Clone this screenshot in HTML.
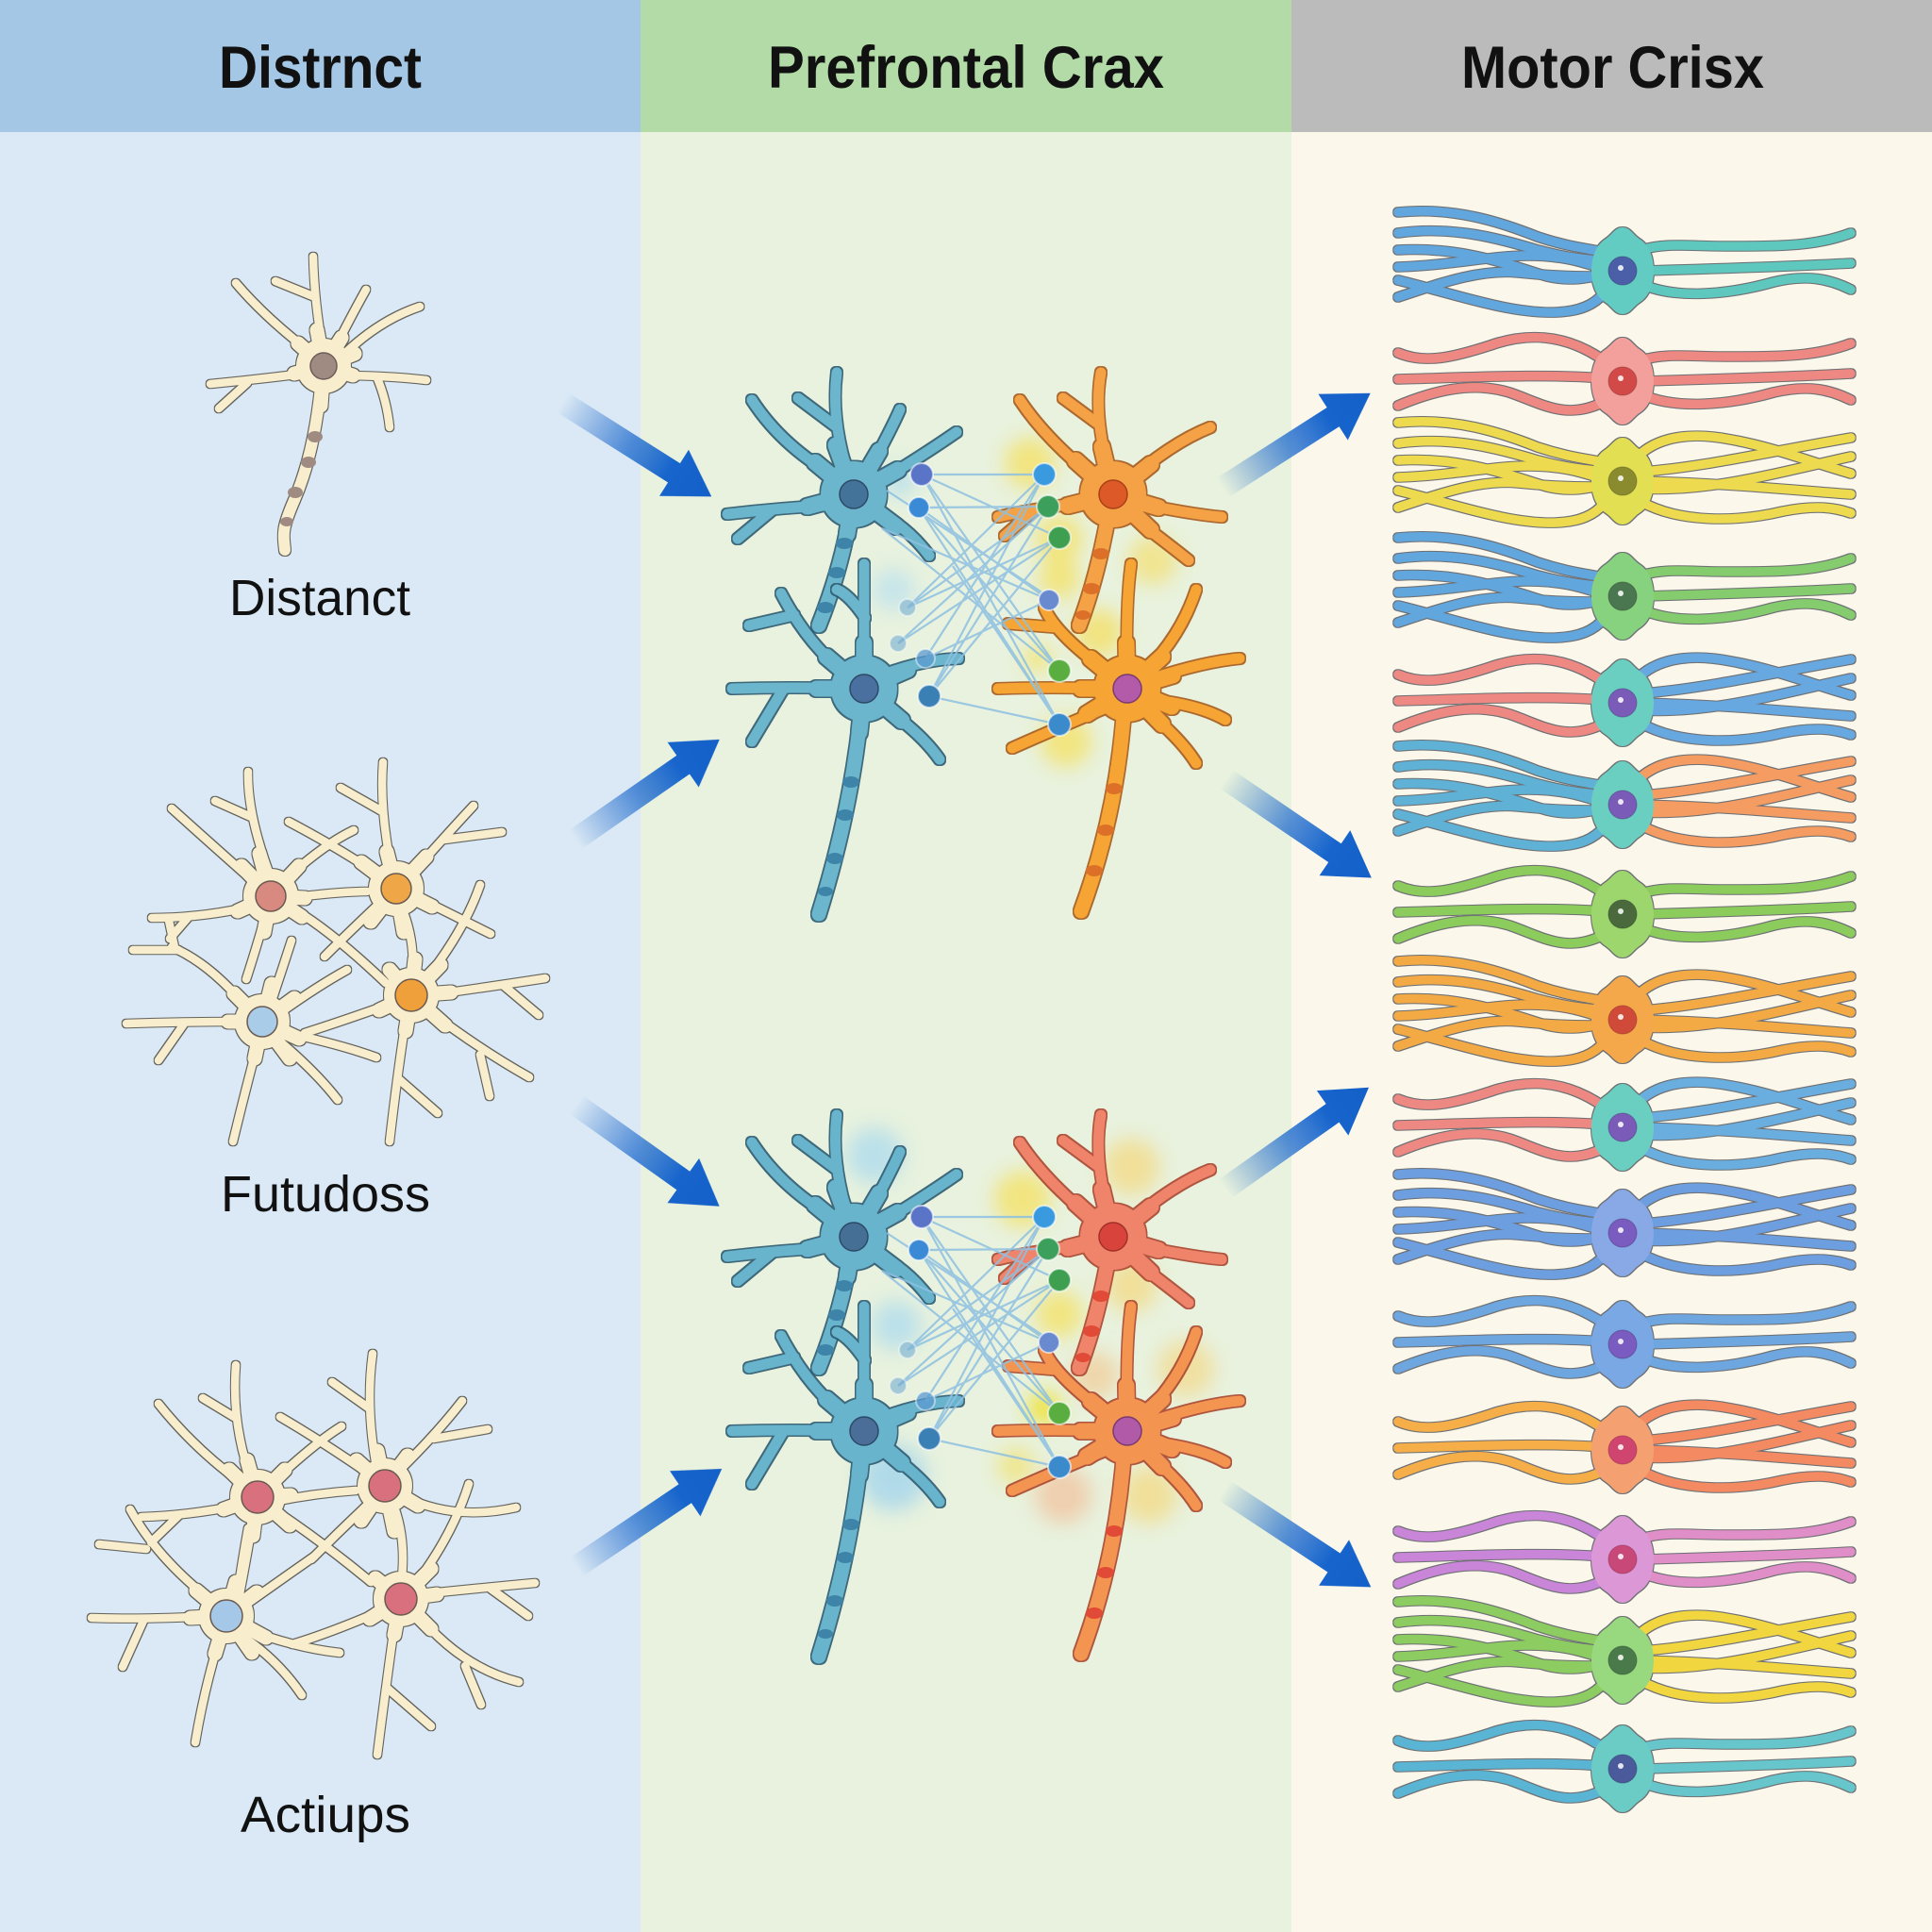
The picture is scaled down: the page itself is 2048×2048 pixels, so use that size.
<!DOCTYPE html>
<html><head><meta charset="utf-8"><title>Cortex diagram</title>
<style>html,body{margin:0;padding:0;background:#fff}svg{display:block}</style></head>
<body>
<svg xmlns="http://www.w3.org/2000/svg" xmlns:xlink="http://www.w3.org/1999/xlink" width="2048" height="2048" viewBox="0 0 2048 2048">
<defs>
<filter id="olC" x="-10%" y="-10%" width="120%" height="120%" color-interpolation-filters="sRGB">
<feMorphology in="SourceAlpha" operator="dilate" radius="1.2" result="d"/><feFlood flood-color="#57544e" flood-opacity=".9"/><feComposite in2="d" operator="in"/><feMerge><feMergeNode/><feMergeNode in="SourceGraphic"/></feMerge></filter>
<filter id="olB" x="-10%" y="-10%" width="120%" height="120%" color-interpolation-filters="sRGB">
<feMorphology in="SourceAlpha" operator="dilate" radius="1.4" result="d"/><feFlood flood-color="#2c5a70" flood-opacity=".9"/><feComposite in2="d" operator="in"/><feMerge><feMergeNode/><feMergeNode in="SourceGraphic"/></feMerge></filter>
<filter id="olO" x="-10%" y="-10%" width="120%" height="120%" color-interpolation-filters="sRGB">
<feMorphology in="SourceAlpha" operator="dilate" radius="1.4" result="d"/><feFlood flood-color="#a65a1c" flood-opacity=".9"/><feComposite in2="d" operator="in"/><feMerge><feMergeNode/><feMergeNode in="SourceGraphic"/></feMerge></filter>
<filter id="olR" x="-10%" y="-10%" width="120%" height="120%" color-interpolation-filters="sRGB">
<feMorphology in="SourceAlpha" operator="dilate" radius="1.4" result="d"/><feFlood flood-color="#a8452f" flood-opacity=".9"/><feComposite in2="d" operator="in"/><feMerge><feMergeNode/><feMergeNode in="SourceGraphic"/></feMerge></filter>
<filter id="olM" x="-6%" y="-25%" width="112%" height="150%" color-interpolation-filters="sRGB">
<feMorphology in="SourceAlpha" operator="dilate" radius="1.2" result="d"/><feFlood flood-color="#3e434a" flood-opacity=".75"/><feComposite in2="d" operator="in"/><feMerge><feMergeNode/><feMergeNode in="SourceGraphic"/></feMerge></filter>
<filter id="bl" x="-60%" y="-60%" width="220%" height="220%"><feGaussianBlur stdDeviation="10"/></filter>

<linearGradient id="ag" gradientUnits="userSpaceOnUse" x1="0" y1="0" x2="186" y2="0">
<stop offset="0" stop-color="#1a66cc" stop-opacity="0"/>
<stop offset=".45" stop-color="#2a72cf" stop-opacity=".8"/>
<stop offset=".72" stop-color="#1664cc"/>
<stop offset="1" stop-color="#1460c8"/>
</linearGradient>
<path id="arw" d="M0,-12 L139,-12 L139,-29 L186,0 L139,29 L139,12 L0,12Z"/>

<!-- Motor templates -->
<g id="LA" fill="none" stroke="currentColor" stroke-width="9.5" stroke-linecap="round">
<path d="M-238,-30 C-210,-18 -180,-25 -140,-38 C-100,-52 -60,-50 -20,-22"/>
<path d="M-238,-2 C-160,-4 -80,-8 -20,-3"/>
<path d="M-238,26 C-200,10 -160,0 -120,12 C-85,24 -60,42 -20,22"/>
</g>
<g id="LB" fill="none" stroke="currentColor" stroke-width="9.5" stroke-linecap="round">
<path d="M-238,-62 C-180,-68 -130,-52 -90,-36 C-60,-26 -40,-24 -20,-20"/>
<path d="M-238,-40 C-180,-48 -130,-34 -90,-22 C-60,-14 -40,-12 -20,-10"/>
<path d="M-238,-22 C-170,-26 -120,-6 -80,6 C-55,12 -40,8 -20,4"/>
<path d="M-238,-4 C-180,-6 -140,-16 -100,-16 C-60,-16 -40,-8 -20,-2"/>
<path d="M-238,28 C-190,12 -150,-2 -110,2 C-70,6 -45,6 -20,6"/>
<path d="M-238,10 C-180,24 -120,46 -70,44 C-45,43 -30,36 -20,24"/>
</g>
<g id="RA" fill="none" stroke="currentColor" stroke-width="9.5" stroke-linecap="round">
<path d="M20,-22 C45,-30 70,-26 110,-26 C170,-26 205,-26 242,-40"/>
<path d="M20,0 C90,-2 170,-4 242,-8"/>
<path d="M20,14 C55,30 110,26 160,12 C195,4 218,8 242,20"/>
</g>
<g id="RB" fill="none" stroke="currentColor" stroke-width="9.5" stroke-linecap="round">
<path d="M18,-28 C40,-48 75,-52 115,-44 C160,-36 200,-20 242,-8"/>
<path d="M20,-10 C80,-14 150,-30 242,-46"/>
<path d="M20,0 C100,2 165,8 242,14"/>
<path d="M20,8 C90,12 160,-8 242,-26"/>
<path d="M20,22 C60,44 120,44 170,32 C205,25 225,28 242,34"/>
</g>
<path id="SM" fill="currentColor" d="M0,-46 C8,-46 11,-38 19,-33 C29,-26 33,-13 33,0 C33,13 29,26 19,33 C11,38 8,46 0,46 C-8,46 -11,38 -19,33 C-29,26 -33,13 -33,0 C-33,-13 -29,-26 -19,-33 C-11,-38 -8,-46 0,-46Z"/>
<g id="hl"><circle cx="-2" cy="-3" r="3" fill="#fff" opacity=".85"/></g>

<!-- Middle neuron geometries -->
<g id="BU" fill="none" stroke="currentColor" stroke-linecap="round" stroke-linejoin="round">
<g stroke-width="11">
<path d="M905,520 Q880,452 887,395"/><path d="M886,452 L846,422"/>
<path d="M898,512 Q832,478 797,424"/><path d="M915,510 Q945,455 954,434"/>
<path d="M925,515 Q975,485 1014,458"/><path d="M890,535 Q830,538 771,545"/>
<path d="M818,541 L782,571"/><path d="M925,540 Q960,556 985,589"/>
</g>
<g stroke-width="17">
<path d="M905,524 L886,472 M905,524 L864,490 M905,524 L932,478 M905,524 L952,498 M905,524 L856,537 M905,524 L950,558 M905,524 L898,566"/>
</g>
<g stroke-width="15"><path d="M902,540 Q893,600 868,663"/></g>
<circle cx="905" cy="524" r="35" fill="currentColor" stroke="none"/>
</g>
<g id="BL" fill="none" stroke="currentColor" stroke-linecap="round" stroke-linejoin="round">
<g stroke-width="11">
<path d="M916,720 Q916,650 916,598"/><path d="M917,655 Q900,630 887,625"/>
<path d="M905,720 Q860,690 828,629"/><path d="M842,652 L794,663"/>
<path d="M905,730 Q840,728 776,730"/><path d="M830,731 L797,786"/>
<path d="M925,720 Q970,700 1016,698"/><path d="M930,745 Q975,775 996,805"/>
</g>
<g stroke-width="17">
<path d="M916,730 L916,682 M916,730 L876,696 M916,730 L866,730 M916,730 L962,710 M916,730 L956,764 M916,730 L911,776"/>
</g>
<g stroke-width="15"><path d="M914,740 Q905,850 868,969"/></g>
<circle cx="916" cy="730" r="35" fill="currentColor" stroke="none"/>
</g>
<g id="OU" fill="none" stroke="currentColor" stroke-linecap="round" stroke-linejoin="round">
<g stroke-width="11">
<path d="M1180,515 Q1158,445 1167,395"/><path d="M1165,450 L1127,422"/>
<path d="M1170,515 Q1110,468 1081,424"/><path d="M1190,515 Q1240,470 1283,453"/>
<path d="M1170,530 Q1100,538 1058,548"/><path d="M1096,541 L1065,568"/>
<path d="M1190,530 Q1260,545 1295,548"/><path d="M1190,540 Q1240,578 1260,594"/>
</g>
<g stroke-width="17">
<path d="M1180,524 L1168,474 M1180,524 L1140,488 M1180,524 L1220,492 M1180,524 L1132,536 M1180,524 L1228,538 M1180,524 L1220,562"/>
</g>
<g stroke-width="15"><path d="M1176,540 Q1164,610 1144,663"/></g>
<circle cx="1180" cy="524" r="35" fill="currentColor" stroke="none"/>
</g>
<g id="OL" fill="none" stroke="currentColor" stroke-linecap="round" stroke-linejoin="round">
<g stroke-width="11">
<path d="M1195,720 Q1193,640 1199,598"/><path d="M1185,720 Q1120,675 1107,644"/>
<path d="M1119,665 L1069,661"/><path d="M1205,720 Q1250,680 1268,625"/>
<path d="M1205,725 Q1270,702 1314,698"/><path d="M1205,740 Q1268,745 1299,763"/>
<path d="M1205,745 Q1250,780 1268,809"/><path d="M1185,730 Q1110,728 1058,730"/>
<path d="M1185,745 Q1120,772 1073,793"/>
</g>
<g stroke-width="17">
<path d="M1195,730 L1194,682 M1195,730 L1156,698 M1195,730 L1232,696 M1195,730 L1243,716 M1195,730 L1242,749 M1195,730 L1232,768 M1195,730 L1146,730 M1195,730 L1152,757"/>
</g>
<g stroke-width="15"><path d="M1192,745 Q1185,860 1146,966"/></g>
<circle cx="1195" cy="730" r="35" fill="currentColor" stroke="none"/>
</g>

<!-- network dots and lines -->
<g id="net">
<g stroke="#8dbfe0" stroke-width="2.2" opacity=".85" fill="none">
<path d="M977,503 L1107,503 M977,503 L1123,570 M977,503 L1123,711 M977,503 L1123,768 M974,538 L1111,537 M974,538 L1112,636 M974,538 L1123,768 M974,538 L1123,711 M962,644 L1107,503 M962,644 L1111,537 M962,644 L1123,570 M952,682 L1111,537 M952,682 L1123,570 M981,698 L1107,503 M981,698 L1112,636 M985,738 L1123,768 M985,738 L1111,537 M985,738 L1123,570 M985,738 L1107,503 M935,560 L1112,636 M935,560 L1123,711 M1010,600 L1123,768 M940,520 L1123,640"/>
</g>
<g stroke="#ffffff" stroke-opacity=".6" stroke-width="2">
<circle cx="977" cy="503" r="12" fill="#5a74c8"/>
<circle cx="974" cy="538" r="11" fill="#3a8ad6"/>
<circle cx="962" cy="644" r="9" fill="#7ab0d0" opacity=".6"/>
<circle cx="952" cy="682" r="9" fill="#6aa6d0" opacity=".55"/>
<circle cx="981" cy="698" r="10" fill="#5a9ad0" opacity=".75"/>
<circle cx="985" cy="738" r="12" fill="#3a80b4"/>
<circle cx="1107" cy="503" r="12" fill="#3a9ae0"/>
<circle cx="1111" cy="537" r="12" fill="#3d9f5c"/>
<circle cx="1123" cy="570" r="12" fill="#3f9f50"/>
<circle cx="1112" cy="636" r="11" fill="#6a8ad0"/>
<circle cx="1123" cy="711" r="12" fill="#5aae40"/>
<circle cx="1123" cy="768" r="12" fill="#3a8acc"/>
</g>
</g>

<!-- cream neuron geometries -->
<g id="N1" fill="none" stroke="currentColor" stroke-linecap="round" stroke-linejoin="round">
<g stroke-width="8.5">
<path d="M343,375 Q333,320 332,272"/><path d="M334,315 L292,298"/>
<path d="M335,378 Q282,338 250,300"/><path d="M352,375 Q375,330 388,307"/>
<path d="M360,380 Q400,340 445,325"/><path d="M330,395 Q275,402 223,407"/>
<path d="M262,406 L232,433"/><path d="M355,398 Q410,398 452,403"/>
<path d="M400,401 Q410,425 413,453"/>
</g>
<g stroke-width="15"><path d="M343,388 L336,350 M343,388 L316,364 M343,388 L362,358 M343,388 L376,375 M343,388 L312,396 M343,388 L374,398 M343,388 L340,430"/></g>
<g stroke-width="12"><path d="M340,410 C335,460 325,500 312,530 S300,565 302,583"/></g>
<circle cx="343" cy="388" r="29" fill="currentColor" stroke="none"/>
</g>

<g id="N2" fill="none" stroke="currentColor" stroke-linecap="round" stroke-linejoin="round">
<g stroke-width="8.5">
<path d="M289,935 Q262,866 263,818"/><path d="M266,866 L228,849"/>
<path d="M275,940 Q223,894 182,857"/><path d="M300,935 Q340,897 375,880"/>
<path d="M305,952 Q361,945 389,945"/><path d="M270,960 Q216,973 161,973"/>
<path d="M199,973 L180,995"/><path d="M283,965 Q272,1004 261,1038"/>
<path d="M305,960 Q347,983 409,1042"/>
<path d="M416,925 Q402,859 406,808"/><path d="M405,860 L361,835"/>
<path d="M405,930 Q361,900 306,871"/><path d="M435,928 Q475,883 502,854"/>
<path d="M471,890 L532,882"/><path d="M440,950 Q492,976 520,990"/>
<path d="M405,955 Q368,990 344,1014"/><path d="M425,960 Q442,1000 436,1040"/>
<path d="M265,1072 Q223,1021 182,1004"/><path d="M185,1004 L179,976"/>
<path d="M189,1007 L141,1007"/><path d="M285,1070 Q299,1028 309,997"/>
<path d="M295,1075 Q337,1045 368,1028"/><path d="M262,1083 Q196,1083 134,1085"/>
<path d="M196,1084 L168,1124"/><path d="M295,1093 Q361,1107 399,1121"/>
<path d="M275,1100 Q261,1152 247,1210"/><path d="M292,1100 Q334,1135 358,1166"/>
<path d="M450,1040 Q492,987 509,938"/><path d="M455,1055 Q526,1045 578,1037"/>
<path d="M533,1044 L571,1076"/><path d="M420,1062 Q361,1083 323,1095"/>
<path d="M432,1070 Q423,1124 413,1210"/><path d="M424,1145 L464,1180"/>
<path d="M450,1068 Q506,1111 561,1142"/><path d="M509,1118 L519,1162"/>
</g>
<g stroke-width="15">
<path d="M287,950 L275,905 M287,950 L256,918 M287,950 L317,918 M287,950 L323,952 M287,950 L252,966 M287,950 L280,988 M287,950 L320,972"/>
<path d="M420,942 L410,903 M420,942 L383,914 M420,942 L452,908 M420,942 L458,961 M420,942 L393,977 M420,942 L428,988"/>
<path d="M278,1083 L248,1053 M278,1083 L288,1043 M278,1083 L312,1058 M278,1083 L242,1083 M278,1083 L317,1101 M278,1083 L270,1122 M278,1083 L307,1122"/>
<path d="M436,1055 L467,1023 M436,1055 L478,1052 M436,1055 L402,1071 M436,1055 L430,1093 M436,1055 L472,1087 M436,1055 L413,1028 M436,1055 L440,1017"/>
</g>
<circle cx="287" cy="950" r="29" fill="currentColor" stroke="none"/>
<circle cx="420" cy="942" r="29" fill="currentColor" stroke="none"/>
<circle cx="278" cy="1083" r="29" fill="currentColor" stroke="none"/>
<circle cx="436" cy="1055" r="29" fill="currentColor" stroke="none"/>
</g>

<g id="N3" fill="none" stroke="currentColor" stroke-linecap="round" stroke-linejoin="round">
<g stroke-width="8.5">
<path d="M267,1570 Q245,1510 250,1447"/><path d="M248,1502 L215,1482"/>
<path d="M260,1575 Q207,1537 168,1488"/><path d="M285,1575 Q333,1530 362,1512"/>
<path d="M290,1592 Q333,1583 377,1580"/><path d="M258,1595 Q197,1607 150,1608"/>
<path d="M190,1606 L160,1635"/><path d="M270,1600 Q263,1643 253,1695"/>
<path d="M290,1600 Q340,1633 393,1677"/>
<path d="M400,1560 Q387,1493 395,1435"/><path d="M390,1492 L352,1465"/>
<path d="M395,1565 Q340,1527 297,1502"/><path d="M420,1562 Q463,1520 490,1485"/>
<path d="M460,1525 L517,1515"/><path d="M425,1585 Q480,1613 547,1598"/>
<path d="M395,1590 Q363,1620 330,1653"/><path d="M415,1590 Q432,1630 425,1680"/>
<path d="M228,1700 Q167,1653 138,1600"/><path d="M155,1642 L105,1637"/>
<path d="M250,1700 Q257,1653 263,1620"/><path d="M255,1705 Q300,1673 333,1650"/>
<path d="M225,1713 Q153,1717 97,1715"/><path d="M153,1716 L130,1767"/>
<path d="M255,1725 Q313,1747 360,1752"/><path d="M235,1730 Q217,1787 207,1847"/>
<path d="M250,1730 Q293,1757 320,1797"/>
<path d="M440,1680 Q480,1627 497,1573"/><path d="M445,1690 Q513,1683 567,1678"/>
<path d="M520,1684 L560,1713"/><path d="M410,1705 Q353,1730 310,1743"/>
<path d="M420,1710 Q410,1780 400,1860"/><path d="M411,1790 L457,1830"/>
<path d="M440,1708 Q487,1767 550,1783"/><path d="M493,1766 L510,1807"/>
</g>
<g stroke-width="15">
<path d="M273,1587 L262,1548 M273,1587 L243,1558 M273,1587 L302,1558 M273,1587 L308,1585 M273,1587 L237,1600 M273,1587 L268,1628 M273,1587 L307,1617"/>
<path d="M408,1575 L400,1538 M408,1575 L378,1548 M408,1575 L432,1543 M408,1575 L443,1596 M408,1575 L383,1612 M408,1575 L418,1623"/>
<path d="M240,1713 L208,1686 M240,1713 L250,1677 M240,1713 L272,1688 M240,1713 L202,1715 M240,1713 L282,1736 M240,1713 L228,1753 M240,1713 L267,1752"/>
<path d="M425,1695 L457,1663 M425,1695 L463,1690 M425,1695 L392,1716 M425,1695 L418,1733 M425,1695 L457,1727 M425,1695 L398,1673"/>
</g>
<circle cx="273" cy="1587" r="29" fill="currentColor" stroke="none"/>
<circle cx="408" cy="1575" r="29" fill="currentColor" stroke="none"/>
<circle cx="240" cy="1713" r="29" fill="currentColor" stroke="none"/>
<circle cx="425" cy="1695" r="29" fill="currentColor" stroke="none"/>
</g>
</defs>

<!-- Backgrounds -->
<rect x="0" y="0" width="679" height="2048" fill="#dae9f5"/>
<rect x="679" y="0" width="690" height="2048" fill="#e8f2de"/>
<rect x="1369" y="0" width="679" height="2048" fill="#fbf7eb"/>
<rect x="0" y="0" width="679" height="140" fill="#a4c7e5"/>
<rect x="679" y="0" width="690" height="140" fill="#b2dba7"/>
<rect x="1369" y="0" width="679" height="140" fill="#bbbbbb"/>

<!-- Headers -->
<g font-family="'Liberation Sans', Arial, sans-serif" font-weight="bold" font-size="63" fill="#111">
<text x="232" y="93" textLength="215" lengthAdjust="spacingAndGlyphs">Distrnct</text>
<text x="814" y="93" textLength="420" lengthAdjust="spacingAndGlyphs">Prefrontal Crax</text>
<text x="1549" y="93" textLength="321" lengthAdjust="spacingAndGlyphs">Motor Crisx</text>
</g>

<!-- Left column neurons -->
<use href="#N1" color="#f8edcc" filter="url(#olC)"/>
<g fill="#a08b82"><ellipse cx="334" cy="463" rx="8" ry="6"/><ellipse cx="327" cy="490" rx="8" ry="6"/><ellipse cx="313" cy="522" rx="8" ry="6"/><ellipse cx="304" cy="553" rx="7" ry="5"/></g>
<circle cx="343" cy="388" r="14" fill="#a08b82" stroke="#6d5d58" stroke-width="1.5"/>

<use href="#N2" color="#f8edcc" filter="url(#olC)"/>
<g stroke="#6a5a52" stroke-width="1.5">
<circle cx="287" cy="950" r="16" fill="#d98a80"/>
<circle cx="420" cy="942" r="16" fill="#eea646"/>
<circle cx="278" cy="1083" r="16" fill="#a9cde8"/>
<circle cx="436" cy="1055" r="17" fill="#efa03a"/>
</g>

<use href="#N3" color="#f8edcc" filter="url(#olC)"/>
<g stroke="#6a5a52" stroke-width="1.5">
<circle cx="273" cy="1587" r="17" fill="#d9707e"/>
<circle cx="408" cy="1575" r="17" fill="#d9707e"/>
<circle cx="240" cy="1713" r="17" fill="#a6c8e8"/>
<circle cx="425" cy="1695" r="17" fill="#d9707e"/>
</g>

<g font-family="'Liberation Sans', Arial, sans-serif" font-size="54" fill="#111">
<text x="243" y="652" textLength="192" lengthAdjust="spacingAndGlyphs">Distanct</text>
<text x="234" y="1284" textLength="222" lengthAdjust="spacingAndGlyphs">Futudoss</text>
<text x="255" y="1942" textLength="180" lengthAdjust="spacingAndGlyphs">Actiups</text>
</g>

<!-- Glows middle -->
<g filter="url(#bl)">
<circle cx="1092" cy="491" r="27" fill="#f8dc40" opacity=".6"/>
<circle cx="1123" cy="571" r="25" fill="#f8dc40" opacity=".6"/>
<circle cx="1222" cy="594" r="26" fill="#f8d850" opacity=".55"/>
<circle cx="1123" cy="613" r="22" fill="#f8dc40" opacity=".6"/>
<circle cx="1165" cy="671" r="26" fill="#f8d840" opacity=".6"/>
<circle cx="1100" cy="698" r="15" fill="#f8e040" opacity=".6"/>
<circle cx="1130" cy="786" r="27" fill="#f8dc40" opacity=".6"/>
<circle cx="954" cy="510" r="16" fill="#a8d8ee" opacity=".7"/>
<circle cx="947" cy="625" r="22" fill="#b8e0f0" opacity=".7"/>

<circle cx="927" cy="1225" r="30" fill="#a8d8ee" opacity=".7"/>
<circle cx="950" cy="1405" r="26" fill="#a8d8ee" opacity=".7"/>
<circle cx="947" cy="1566" r="35" fill="#9fd2ec" opacity=".75"/>
<circle cx="1084" cy="1271" r="30" fill="#f8dc40" opacity=".6"/>
<circle cx="1199" cy="1237" r="30" fill="#f8d060" opacity=".55"/>
<circle cx="1199" cy="1363" r="28" fill="#f8d060" opacity=".55"/>
<circle cx="1123" cy="1393" r="25" fill="#f8dc40" opacity=".6"/>
<circle cx="1257" cy="1451" r="30" fill="#f8d070" opacity=".55"/>
<circle cx="1161" cy="1458" r="25" fill="#f4c080" opacity=".55"/>
<circle cx="1107" cy="1493" r="18" fill="#f0e020" opacity=".8"/>
<circle cx="1127" cy="1585" r="30" fill="#f4b890" opacity=".6"/>
<circle cx="1218" cy="1585" r="30" fill="#f8d060" opacity=".55"/>
<circle cx="1077" cy="1554" r="20" fill="#f8dc40" opacity=".5"/>
</g>

<!-- Middle neurons top -->
<use href="#BU" color="#6bb6cc" filter="url(#olB)"/>
<use href="#BL" color="#6bb6cc" filter="url(#olB)"/>
<use href="#OU" color="#f5a247" filter="url(#olO)"/>
<use href="#OL" color="#f6a534" filter="url(#olO)"/>
<!-- Middle neurons bottom -->
<use href="#BU" color="#68b4cc" filter="url(#olB)" transform="translate(0,787)"/>
<use href="#BL" color="#68b4cc" filter="url(#olB)" transform="translate(0,787)"/>
<use href="#OU" color="#f0846a" filter="url(#olR)" transform="translate(0,787)"/>
<use href="#OL" color="#f39450" filter="url(#olR)" transform="translate(0,787)"/>

<!-- axon nodes -->
<g fill="#3d84a8">
<ellipse cx="895" cy="576" rx="9" ry="6"/><ellipse cx="887" cy="607" rx="9" ry="6"/><ellipse cx="875" cy="644" rx="9" ry="6"/>
<ellipse cx="902" cy="829" rx="9" ry="6"/><ellipse cx="896" cy="864" rx="9" ry="6"/><ellipse cx="885" cy="910" rx="9" ry="6"/><ellipse cx="875" cy="945" rx="8" ry="5"/>
<ellipse cx="895" cy="1363" rx="9" ry="6"/><ellipse cx="887" cy="1394" rx="9" ry="6"/><ellipse cx="875" cy="1431" rx="9" ry="6"/>
<ellipse cx="902" cy="1616" rx="9" ry="6"/><ellipse cx="896" cy="1651" rx="9" ry="6"/><ellipse cx="885" cy="1697" rx="9" ry="6"/><ellipse cx="875" cy="1732" rx="8" ry="5"/>
</g>
<g fill="#dc7028">
<ellipse cx="1167" cy="587" rx="9" ry="6"/><ellipse cx="1157" cy="624" rx="9" ry="6"/><ellipse cx="1148" cy="652" rx="8" ry="5"/>
<ellipse cx="1181" cy="836" rx="9" ry="6"/><ellipse cx="1172" cy="880" rx="9" ry="6"/><ellipse cx="1160" cy="923" rx="9" ry="6"/>
</g>
<g fill="#e04a36">
<ellipse cx="1167" cy="1374" rx="9" ry="6"/><ellipse cx="1157" cy="1411" rx="9" ry="6"/><ellipse cx="1148" cy="1439" rx="8" ry="5"/>
<ellipse cx="1181" cy="1623" rx="9" ry="6"/><ellipse cx="1172" cy="1667" rx="9" ry="6"/><ellipse cx="1160" cy="1710" rx="9" ry="6"/>
</g>

<!-- nuclei middle -->
<g stroke-width="1.5">
<circle cx="905" cy="524" r="15" fill="#44739a" stroke="#2c4a66"/>
<circle cx="916" cy="730" r="15" fill="#4a70a0" stroke="#2c4a66"/>
<circle cx="1180" cy="524" r="15" fill="#dd5a28" stroke="#a84018"/>
<circle cx="1195" cy="730" r="15" fill="#b35ba8" stroke="#7a3a72"/>
<circle cx="905" cy="1311" r="15" fill="#456f94" stroke="#2c4a66"/>
<circle cx="916" cy="1517" r="15" fill="#4a6e98" stroke="#2c4a66"/>
<circle cx="1180" cy="1311" r="15" fill="#d8443c" stroke="#a03028"/>
<circle cx="1195" cy="1517" r="15" fill="#b05aa8" stroke="#7a3a72"/>
</g>

<!-- network -->
<use href="#net"/>
<use href="#net" transform="translate(0,787)"/>

<!-- Arrows -->
<g fill="url(#ag)">
<use href="#arw" transform="translate(597,427) rotate(32.3)"/>
<use href="#arw" transform="translate(610,890) rotate(-34.8)"/>
<use href="#arw" transform="translate(611,1171) rotate(35.4)"/>
<use href="#arw" transform="translate(611,1661) rotate(-34)"/>
<use href="#arw" transform="translate(1296,517) rotate(-32.6)"/>
<use href="#arw" transform="translate(1300,826) rotate(34.2)"/>
<use href="#arw" transform="translate(1299,1260) rotate(-35.2)"/>
<use href="#arw" transform="translate(1298,1580) rotate(33.4)"/>
</g>

<!-- Motor rows -->
<g transform="translate(1720,287)"><g filter="url(#olM)"><use href="#LB" color="#62a6de"/><use href="#RA" color="#5ec8be"/><use href="#SM" color="#62cbc2"/></g><circle r="15" fill="#4b5ea8" stroke="#333a66" stroke-opacity=".5"/><use href="#hl"/></g>
<g transform="translate(1720,404)"><g filter="url(#olM)"><use href="#LA" color="#ee8882"/><use href="#RA" color="#ee8882"/><use href="#SM" color="#f3a09c"/></g><circle r="15" fill="#d24a48" stroke="#8a3030" stroke-opacity=".5"/><use href="#hl"/></g>
<g transform="translate(1720,510)"><g filter="url(#olM)"><use href="#LB" color="#eeda4e"/><use href="#RB" color="#eeda4e"/><use href="#SM" color="#e2df52"/></g><circle r="15" fill="#8a8a2e" stroke="#5a5a20" stroke-opacity=".5"/><use href="#hl"/></g>
<g transform="translate(1720,632)"><g filter="url(#olM)"><use href="#LB" color="#62a6de"/><use href="#RA" color="#84cc6e"/><use href="#SM" color="#86d27e"/></g><circle r="15" fill="#4a7650" stroke="#2e4a32" stroke-opacity=".5"/><use href="#hl"/></g>
<g transform="translate(1720,745)"><g filter="url(#olM)"><use href="#LA" color="#ee8882"/><use href="#RB" color="#68a8e0"/><use href="#SM" color="#6acfc0"/></g><circle r="15" fill="#7a5cb8" stroke="#4a3a78" stroke-opacity=".5"/><use href="#hl"/></g>
<g transform="translate(1720,853)"><g filter="url(#olM)"><use href="#LB" color="#5fb2d6"/><use href="#RB" color="#f49c62"/><use href="#SM" color="#6acfc0"/></g><circle r="15" fill="#7a5cb8" stroke="#4a3a78" stroke-opacity=".5"/><use href="#hl"/></g>
<g transform="translate(1720,969)"><g filter="url(#olM)"><use href="#LA" color="#8ccc5c"/><use href="#RA" color="#8ccc5c"/><use href="#SM" color="#9ed66e"/></g><circle r="15" fill="#4a6a3e" stroke="#2e4226" stroke-opacity=".5"/><use href="#hl"/></g>
<g transform="translate(1720,1081)"><g filter="url(#olM)"><use href="#LB" color="#f4aa44"/><use href="#RB" color="#f4aa44"/><use href="#SM" color="#f5a84a"/></g><circle r="15" fill="#d04a3a" stroke="#8a3028" stroke-opacity=".5"/><use href="#hl"/></g>
<g transform="translate(1720,1195)"><g filter="url(#olM)"><use href="#LA" color="#ee8882"/><use href="#RB" color="#6aaee0"/><use href="#SM" color="#6acfc0"/></g><circle r="15" fill="#7a5cb8" stroke="#4a3a78" stroke-opacity=".5"/><use href="#hl"/></g>
<g transform="translate(1720,1307)"><g filter="url(#olM)"><use href="#LB" color="#6c9ee0"/><use href="#RB" color="#6c9ee0"/><use href="#SM" color="#88a8e6"/></g><circle r="15" fill="#7a5cc0" stroke="#4a3a78" stroke-opacity=".5"/><use href="#hl"/></g>
<g transform="translate(1720,1425)"><g filter="url(#olM)"><use href="#LA" color="#6ea6e0"/><use href="#RA" color="#6ea6e0"/><use href="#SM" color="#7aa8e4"/></g><circle r="15" fill="#7a5cc0" stroke="#4a3a78" stroke-opacity=".5"/><use href="#hl"/></g>
<g transform="translate(1720,1537)"><g filter="url(#olM)"><use href="#LA" color="#f5ae48"/><use href="#RB" color="#f48a62"/><use href="#SM" color="#f5a070"/></g><circle r="15" fill="#d04470" stroke="#8a2a48" stroke-opacity=".5"/><use href="#hl"/></g>
<g transform="translate(1720,1653)"><g filter="url(#olM)"><use href="#LA" color="#c985d8"/><use href="#RA" color="#e08ec8"/><use href="#SM" color="#dc98d6"/></g><circle r="15" fill="#c84878" stroke="#8a2a50" stroke-opacity=".5"/><use href="#hl"/></g>
<g transform="translate(1720,1760)"><g filter="url(#olM)"><use href="#LB" color="#8ccc60"/><use href="#RB" color="#f2d640"/><use href="#SM" color="#98d87e"/></g><circle r="15" fill="#4a7a4a" stroke="#2e4a2e" stroke-opacity=".5"/><use href="#hl"/></g>
<g transform="translate(1720,1875)"><g filter="url(#olM)"><use href="#LA" color="#5ab4d4"/><use href="#RA" color="#66c6cc"/><use href="#SM" color="#6accc4"/></g><circle r="15" fill="#4a5a9a" stroke="#2e3a66" stroke-opacity=".5"/><use href="#hl"/></g>
</svg>
</body></html>
